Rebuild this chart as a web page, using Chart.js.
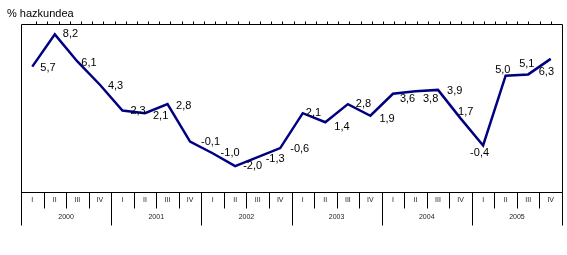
<!DOCTYPE html>
<html>
<head>
<meta charset="utf-8">
<script src="https://cdn.jsdelivr.net/npm/chart.js@4/dist/chart.umd.min.js"></script>
<style>
html,body{margin:0;padding:0;background:#fff;}
#wrap{width:567px;height:255px;position:relative;}
</style>
</head>
<body>
<div id="wrap"><canvas id="c" width="567" height="255"></canvas></div>
<script>
const years = ['2000','2001','2002','2003','2004','2005'];
const quarters = ['I','II','III','IV'];
const categories = years.flatMap(y => quarters.map(q => q + ' ' + y));
const growth = [5.7, 8.2, 6.1, 4.3, 2.3, 2.1, 2.8, -0.1, -1.0, -2.0, -1.3, -0.6,
                2.1, 1.4, 2.8, 1.9, 3.6, 3.8, 3.9, 1.7, -0.4, 5.0, 5.1, 6.3];
const yAxisTitle = '% hazkundea';

// label placement (style only): [dx, dy] relative to the point
const labelOffsets = [[8,1],[8,0],[4,1.5],[8,1],[8,0],[8,3],[8.5,2],[11,0],[8,0],[8,0],[8,2],[10,1],
                      [3,0],[9,5],[8,0],[9,3],[7,5],[7.5,8],[9,1],[-2.5,-6],[-13,7],[-10.5,-5.5],[-9,-10],[-12,13]];

const fmt = v => v.toFixed(1).replace('.', ',');

const decor = {
  id: 'decor',
  afterDraw(chart) {
    const ctx = chart.ctx;
    const a = chart.chartArea;
    const xs = chart.scales.x;
    const n = categories.length;
    const w = (a.right - a.left) / n;
    ctx.save();
    ctx.strokeStyle = '#000';
    ctx.lineWidth = 1;
    const L = Math.round(a.left) + 0.5, R = Math.round(a.right) + 0.5;
    const T = Math.round(a.top) + 0.5, B = Math.round(a.bottom) + 0.5;
    ctx.beginPath();
    ctx.moveTo(L, T); ctx.lineTo(R, T);
    ctx.moveTo(L, B); ctx.lineTo(R, B);
    ctx.moveTo(L, T); ctx.lineTo(L, B + 33);
    ctx.moveTo(R, T); ctx.lineTo(R, B);
    // top ticks
    const tStep = (a.right - (a.left + 4)) / (n * 2);
    for (let k = 1; k < n * 2; k++) {
      const x = Math.round(a.right - k * tStep) + 0.5;
      ctx.moveTo(x, T); ctx.lineTo(x, T - 3);
    }
    // category separators
    for (let i = 1; i <= n; i++) {
      const x = Math.round(a.left + i * w) + 0.5;
      const yearEdge = (i % 4 === 0);
      ctx.moveTo(x, B); ctx.lineTo(x, yearEdge ? B + 33 : B + 16);
    }
    ctx.stroke();
    // category labels
    ctx.fillStyle = '#222';
    ctx.textAlign = 'center';
    ctx.textBaseline = 'middle';
    ctx.font = '7px "Liberation Sans", Arial, sans-serif';
    for (let i = 0; i < n; i++) {
      const x = xs.getPixelForValue(i);
      ctx.fillText(quarters[i % 4], x, B + 8);
    }
    for (let j = 0; j < years.length; j++) {
      const x = a.left + (j * 4 + 2) * w;
      ctx.fillText(years[j], x, B + 25);
    }
    // title
    ctx.fillStyle = '#000';
    ctx.textAlign = 'left';
    ctx.font = '11px "Liberation Sans", Arial, sans-serif';
    ctx.fillText(yAxisTitle, 7, 14);
    // data labels
    const meta = chart.getDatasetMeta(0);
    meta.data.forEach((pt, i) => {
      const off = labelOffsets[i];
      ctx.fillText(fmt(growth[i]), pt.x + off[0], pt.y + off[1]);
    });
    ctx.restore();
  }
};

new Chart(document.getElementById('c'), {
  type: 'line',
  data: {
    labels: categories,
    datasets: [{
      data: growth,
      borderColor: '#000080',
      borderWidth: 2.5,
      pointRadius: 0,
      tension: 0,
      fill: false
    }]
  },
  options: {
    responsive: false,
    animation: false,
    layout: { padding: { left: 21, top: 24, right: 5, bottom: 63 } },
    plugins: { legend: { display: false }, tooltip: { enabled: false } },
    scales: {
      x: { type: 'category', offset: true, display: false },
      y: { min: -4, max: 9, display: false }
    }
  },
  plugins: [decor]
});
</script>
</body>
</html>
